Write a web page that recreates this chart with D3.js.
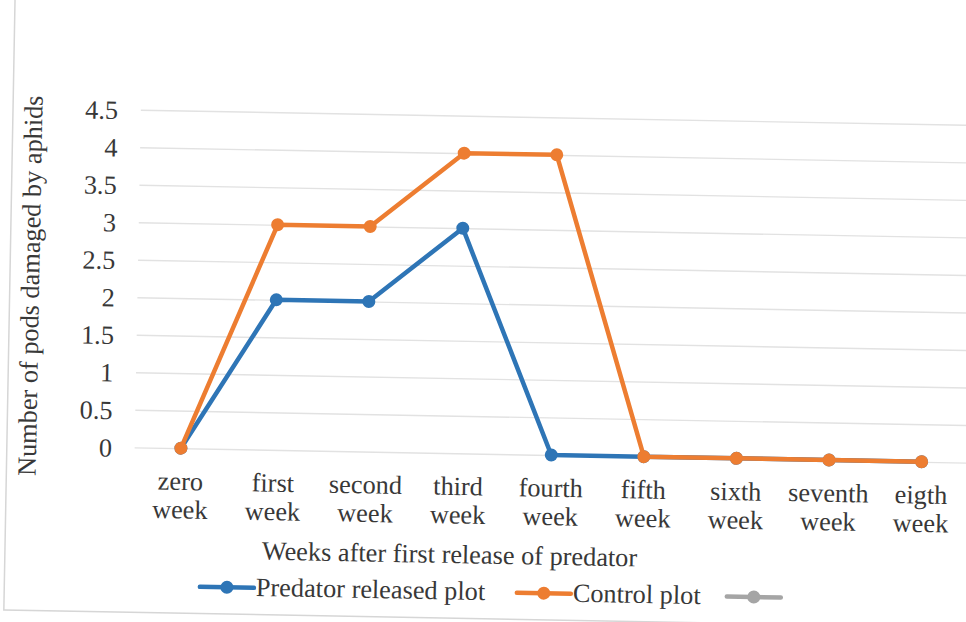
<!DOCTYPE html>
<html>
<head>
<meta charset="utf-8">
<script src="https://cdn.jsdelivr.net/npm/d3@7/dist/d3.min.js"></script>
<style>
  html, body { margin: 0; padding: 0; background: #ffffff; }
  svg { display: block; }
  text { font-family: "Liberation Serif", "Times New Roman", serif; fill: #383838; }
</style>
</head>
<body>
<svg id="chart" width="966" height="622"></svg>
<script>
// Weekly counts of pods damaged by aphids
const categories = ["zero week", "first week", "second week", "third week", "fourth week",
                    "fifth week", "sixth week", "seventh week", "eigth week"];
const predatorReleased = [0, 2, 2, 3, 0, 0, 0, 0, 0];
const controlPlot      = [0, 3, 3, 4, 4, 0, 0, 0, 0];
const yTicks = [0, 0.5, 1, 1.5, 2, 2.5, 3, 3.5, 4, 4.5];
const seriesNames = ["Predator released plot", "Control plot", ""];
const seriesColors = ["#2e75b6", "#ed7d31", "#a5a5a5"];

const plot = { left: 137.2, right: 970.6, top: 116, bottom: 453.7 };
const fontSize = 26.3;

const svg = d3.select("#chart");
const root = svg.append("g").attr("transform", "rotate(1.05, 483, 311)");

// chart frame
root.append("rect")
  .attr("x", 9.4).attr("y", -30)
  .attr("width", 1100).attr("height", 618.7 + 30)
  .attr("fill", "none").attr("stroke", "#d6d6d6").attr("stroke-width", 1.5);

const x = d3.scalePoint().domain(categories).range([plot.left, plot.right]).padding(0.5);
const y = d3.scaleLinear().domain([0, 4.5]).range([plot.bottom, plot.top]);

// horizontal gridlines with value labels
const yAxis = d3.axisLeft(y)
  .tickValues(yTicks)
  .tickSize(-(plot.right - plot.left))
  .tickPadding(0)
  .tickFormat(d => String(d));
const gy = root.append("g").attr("transform", `translate(${plot.left},0)`).call(yAxis);
gy.select(".domain").remove();
gy.selectAll(".tick line").attr("stroke", "#e2e2e2").attr("stroke-width", 1.4);
gy.selectAll(".tick text")
  .attr("x", 114.5 - plot.left)
  .attr("dy", "0.35em")
  .attr("text-anchor", "end")
  .style("font-family", "'Liberation Serif', serif")
  .style("font-size", fontSize + "px")
  .attr("fill", "#383838");

// category labels on two lines
const gx = root.append("g");
categories.forEach(c => {
  const parts = c.split(" ");
  const t = gx.append("text")
    .attr("text-anchor", "middle")
    .attr("font-size", fontSize);
  parts.forEach((p, i) => {
    t.append("tspan").attr("x", x(c)).attr("y", 495.5 + i * 28.5).text(p);
  });
});

// axis titles
root.append("text")
  .attr("text-anchor", "middle")
  .attr("font-size", fontSize)
  .attr("x", 454).attr("y", 563.6)
  .text("Weeks after first release of predator");

root.append("text")
  .attr("text-anchor", "middle")
  .attr("font-size", fontSize)
  .attr("transform", "translate(29.5,294) rotate(-90)")
  .attr("dy", "0.35em")
  .text("Number of pods damaged by aphids");

// series lines and markers
const line = d3.line().x((d, i) => x(categories[i])).y(d => y(d));
const series = [predatorReleased, controlPlot];
series.forEach((vals, si) => {
  const g = root.append("g");
  g.append("path")
    .datum(vals)
    .attr("d", line)
    .attr("fill", "none")
    .attr("stroke", seriesColors[si])
    .attr("stroke-width", 4.5)
    .attr("stroke-linejoin", "round")
    .attr("stroke-linecap", "round");
  g.selectAll("circle")
    .data(vals)
    .join("circle")
    .attr("cx", (d, i) => x(categories[i]))
    .attr("cy", d => y(d))
    .attr("r", 6.5)
    .attr("fill", seriesColors[si]);
});

// legend
const legendItems = [
  { x0: 205, text: seriesNames[0], color: seriesColors[0] },
  { x0: 522, text: seriesNames[1], color: seriesColors[1] },
  { x0: 732, text: seriesNames[2], color: seriesColors[2] }
];
const legendY = 592;
const lg = root.append("g");
legendItems.forEach(it => {
  lg.append("line")
    .attr("x1", it.x0).attr("x2", it.x0 + 54)
    .attr("y1", legendY).attr("y2", legendY)
    .attr("stroke", it.color).attr("stroke-width", 4.5)
    .attr("stroke-linecap", "round");
  lg.append("circle")
    .attr("cx", it.x0 + 27).attr("cy", legendY).attr("r", 6.5)
    .attr("fill", it.color);
  if (it.text) {
    lg.append("text")
      .attr("x", it.x0 + 56).attr("y", 600)
      .attr("font-size", fontSize)
      .text(it.text);
  }
});
</script>
</body>
</html>
